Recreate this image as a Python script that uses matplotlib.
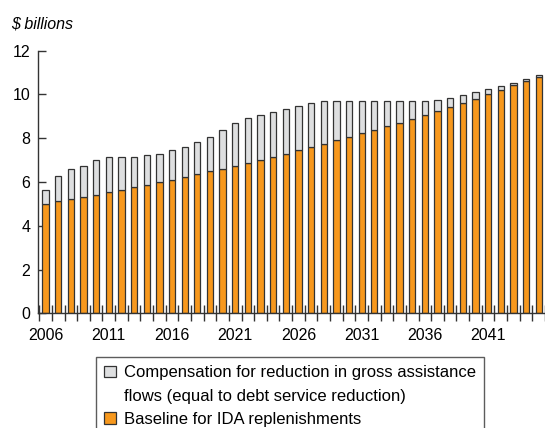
import numpy as np
import matplotlib
matplotlib.use("Agg")
import matplotlib.pyplot as plt
import matplotlib.patches as mpatches

plt.rcParams['font.family'] = ['Liberation Sans', 'DejaVu Sans']

YEARS = list(range(2006, 2046))
# baseline for IDA replenishments ($ billions)
BASELINE = [5.01, 5.11, 5.22, 5.31, 5.42, 5.54, 5.65, 5.75, 5.88, 6.00,
            6.10, 6.23, 6.36, 6.48, 6.60, 6.74, 6.87, 7.01, 7.15, 7.28,
            7.44, 7.58, 7.73, 7.90, 8.05, 8.22, 8.37, 8.54, 8.71, 8.87,
            9.07, 9.24, 9.42, 9.62, 9.80, 10.02, 10.21, 10.41, 10.61, 10.82]
# total = baseline + compensation
TOTAL = [5.65, 6.26, 6.58, 6.73, 6.99, 7.12, 7.12, 7.12, 7.23, 7.28,
         7.44, 7.61, 7.81, 8.06, 8.37, 8.68, 8.92, 9.07, 9.19, 9.34,
         9.49, 9.61, 9.70, 9.71, 9.71, 9.71, 9.68, 9.68, 9.68, 9.68,
         9.71, 9.76, 9.83, 9.97, 10.11, 10.24, 10.40, 10.53, 10.70, 10.90]
COMPENSATION = [t - b for t, b in zip(TOTAL, BASELINE)]
XTICK_LABELS = [str(y) for y in range(2006, 2045, 5)]

LABEL_COMP_1 = "Compensation for reduction in gross assistance"
LABEL_COMP_2 = "flows (equal to debt service reduction)"
LABEL_BASE = "Baseline for IDA replenishments"

ORANGE = "#F7981D"
GREY = "#DEDFE0"
EDGE = "#333333"
TICK_FONT = 11.5
LEGEND_FONT = 12

W, H = 545, 428
fig = plt.figure(figsize=(W / 100, H / 100), dpi=100)
ax = fig.add_axes([38 / W, (H - 313.3) / H, (W - 38) / W, (313.3 - 50.7) / H])

x = np.arange(len(YEARS))
ax.bar(x, BASELINE, width=0.5, color=ORANGE, edgecolor=EDGE, linewidth=0.9, zorder=2)
ax.bar(x, COMPENSATION, width=0.5, bottom=BASELINE, color=GREY, edgecolor=EDGE,
       linewidth=0.9, zorder=2)

ax.set_xlim(-0.6, 39.3)
ax.set_ylim(0, 12)
for side in ["top", "right"]:
  ax.spines[side].set_visible(False)
for side in ["left", "bottom"]:
  ax.spines[side].set_color(EDGE)
  ax.spines[side].set_linewidth(1.0)

ax.set_yticks(np.arange(0, 13, 2))
ax.tick_params(axis='y', direction='in', length=6, width=1, color=EDGE,
               pad=5.5, labelsize=TICK_FONT)
major_idx = [YEARS.index(int(y)) for y in XTICK_LABELS]
ax.set_xticks(major_idx)
ax.set_xticklabels(XTICK_LABELS)
ax.set_xticks(np.arange(-1, len(YEARS)) + 0.5, minor=True)
ax.tick_params(axis='x', which='major', length=0, pad=10.5, labelsize=TICK_FONT)
ax.tick_params(axis='x', which='minor', direction='inout', length=11, width=1, color=EDGE)

fig.text(11 / W, 1 - 29 / H, "$ billions", fontsize=TICK_FONT, style='italic',
         va='baseline', ha='left')

handles = [
  mpatches.Patch(facecolor=GREY, edgecolor=EDGE, linewidth=0.9),
  mpatches.Patch(facecolor='none', edgecolor='none'),
  mpatches.Patch(facecolor=ORANGE, edgecolor=EDGE, linewidth=0.9),
]
labels = [LABEL_COMP_1, LABEL_COMP_2, LABEL_BASE]
leg = fig.legend(handles, labels, loc='upper left', bbox_to_anchor=(96 / W, 1 - 357 / H),
                 fontsize=LEGEND_FONT, frameon=True, fancybox=False, borderpad=0.5,
                 handlelength=0.7, handleheight=0.7, handletextpad=0.45,
                 labelspacing=0.5, borderaxespad=0)
leg.get_frame().set_edgecolor(EDGE)
leg.get_frame().set_linewidth(1.0)

fig.savefig("out.png", dpi=100)
